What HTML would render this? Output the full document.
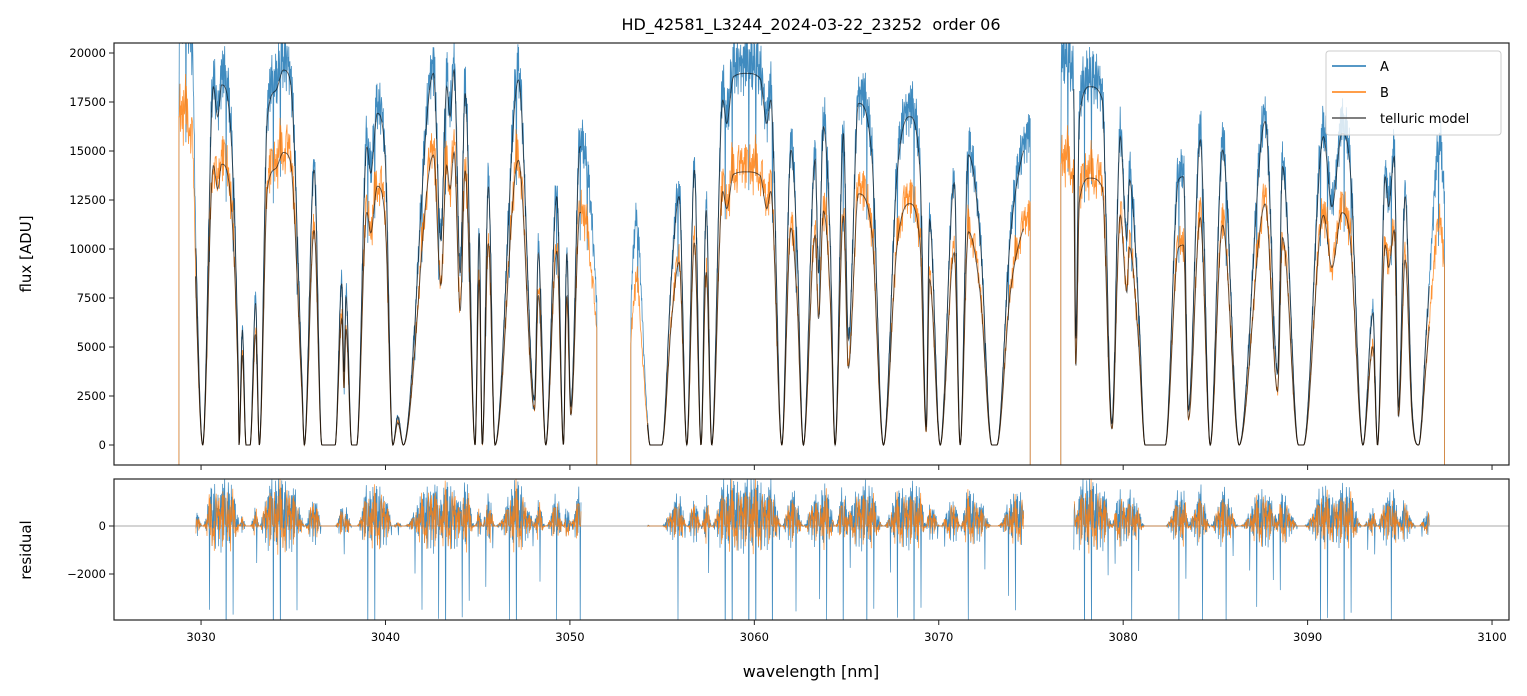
<!DOCTYPE html>
<html><head><meta charset="utf-8">
<style>
html,body{margin:0;padding:0;background:#fff;}
svg{display:block;font-family:"DejaVu Sans","Liberation Sans",sans-serif;}
</style></head>
<body>
<svg id="chart" width="1527" height="696" viewBox="0 0 1527 696" xmlns="http://www.w3.org/2000/svg">
<defs>
<clipPath id="clipMain"><rect x="114" y="43" width="1395" height="422"/></clipPath>
<clipPath id="clipRes"><rect x="114" y="479" width="1395" height="141"/></clipPath>
</defs>
<rect width="1527" height="696" fill="#fff"/>
<text x="811" y="30" text-anchor="middle" font-size="16" xml:space="preserve">HD_42581_L3244_2024-03-22_23252  order 06</text>
<g id="mainSeries" clip-path="url(#clipMain)"></g>
<g id="resSeries" clip-path="url(#clipRes)"></g>
<rect x="114" y="43" width="1395" height="422" fill="none" stroke="#222" stroke-width="1.2"/>
<rect x="114" y="479" width="1395" height="141" fill="none" stroke="#222" stroke-width="1.2"/>
<g id="axes"></g>
<text transform="translate(31,254) rotate(-90)" text-anchor="middle" font-size="15">flux [ADU]</text>
<text transform="translate(31,550) rotate(-90)" text-anchor="middle" font-size="15">residual</text>
<text x="811" y="677" text-anchor="middle" font-size="16">wavelength [nm]</text>
<g>
<rect x="1326" y="51" width="175" height="84" rx="3" fill="#fff" fill-opacity="0.8" stroke="#ccc"/>
<line x1="1332" y1="66" x2="1366" y2="66" stroke="#1f77b4" stroke-width="1.5"/>
<text x="1380" y="71" font-size="13">A</text>
<line x1="1332" y1="92" x2="1366" y2="92" stroke="#ff7f0e" stroke-width="1.5"/>
<text x="1380" y="97" font-size="13">B</text>
<line x1="1332" y1="118" x2="1366" y2="118" stroke="#555" stroke-width="1.5"/>
<text x="1380" y="123" font-size="13">telluric model</text>
</g>
</svg>
<script>
// ---- data ----
const seg1Wl=[3028.8,3029.3,3029.55,3029.73,3030.09,3030.67,3030.90,3031.12,3032.02,3032.06,3032.24,3032.44,3032.66,3032.96,3033.16,3033.60,3034.07,3034.46,3034.83,3035.46,3035.60,3036.13,3036.55,3036.72,3037.27,3037.63,3037.75,3037.86,3038.17,3038.44,3038.99,3039.20,3039.56,3039.98,3040.40,3040.67,3040.97,3042.60,3043.00,3043.32,3043.50,3043.72,3044.05,3044.32,3044.86,3045.08,3045.25,3045.58,3045.94,3047.21,3048.08,3048.29,3048.69,3049.29,3049.65,3049.83,3050.05,3050.55,3051.10,3051.46];
const seg1Flux=[21500,21000,19000,9610,0,18280,16750,18370,3670,0,5870,0,0,7230,0,16750,18110,19130,18620,3670,0,14030,0,0,0,8250,3670,7570,0,0,15220,13880,16920,14700,0,1450,0,18960,10460,18280,16750,19130,8770,17940,0,10800,0,13180,0,18620,2300,9780,0,12670,0,9780,1950,15220,12250,7060];
const seg2Wl=[3053.30,3053.59,3054.17,3054.35,3054.98,3055.52,3055.92,3056.34,3056.75,3057.11,3057.39,3057.69,3058.29,3058.50,3058.87,3059.59,3060.31,3060.68,3060.89,3061.49,3061.99,3062.30,3062.66,3063.30,3063.48,3063.75,3064.11,3064.38,3064.83,3065.10,3065.65,3066.37,3067.00,3067.73,3068.41,3068.99,3069.32,3069.50,3070.08,3070.84,3071.16,3071.61,3072.25,3072.88,3073.15,3073.87,3074.51,3074.96];
const seg2Flux=[7060,11140,1790,0,0,8760,12670,0,14030,0,11990,0,17600,16410,18790,18960,18710,16410,17600,0,15050,10460,0,14540,8760,16240,10460,0,15900,5360,17430,14710,0,13690,16750,13860,930,11480,0,13350,0,14800,10460,0,0,10460,14710,15560];
const seg3Wl=[3076.62,3077.31,3077.43,3077.63,3078.21,3078.85,3079.39,3079.84,3080.20,3080.34,3080.83,3081.19,3082.01,3082.28,3083.00,3083.27,3083.54,3084.18,3084.72,3085.39,3086.29,3087.70,3088.37,3088.64,3089.51,3089.78,3090.86,3091.32,3091.86,3092.31,3093.00,3093.54,3093.79,3094.21,3094.39,3094.70,3094.93,3095.29,3095.66,3096.02,3096.47,3097.19,3097.43];
const seg3Flux=[19300,18450,5360,16750,18280,17690,1100,15730,10460,13520,7060,0,0,0,13520,13690,1790,15560,0,15050,0,16500,3660,14200,0,0,15730,12160,15900,14030,0,6720,0,13690,12160,14710,1950,12670,1950,0,6210,15050,11820];
const bRatio=[0.78,0.735,0.745];
const residStart=[3029.7,3054.2,3077.3];
const residEnd=[3050.6,3074.6,3096.6];
const noise=[0.3,-0.5,0.8,-0.2,0.1,-0.9,0.6,0.2,-0.4,0.9,-0.7,0.0,0.5,-0.3,0.7,-0.8,0.2,0.4,-0.6,1.0,-0.1,0.3,-0.9,0.6,-0.2,0.8,-0.5,0.1,0.7,-0.4,0.2,-1.0,0.5,0.9,-0.3,-0.6,0.4,0.0,0.8,-0.7,0.3,-0.2,0.6,-0.8,0.9,0.1,-0.4,0.5,-0.1,0.7,-0.9,0.2,0.4,-0.5,0.8,-0.3,0.0,0.6,-0.7,0.3,1.0,-0.6,0.2,-0.2];
const yTicks=[0,2500,5000,7500,10000,12500,15000,17500,20000];
const xTicks=[3030,3040,3050,3060,3070,3080,3090,3100];
const resTicks=[0,-2000];

// ---- axes ----
const X0=114,X1=1509;
const xmin=3025.28,xmax=3100.92;
const xs=w=>X0+(w-xmin)/(xmax-xmin)*(X1-X0);
const ys=f=>445-f/2500*49;
const yr=r=>526-r/1000*24;
const NS='http://www.w3.org/2000/svg';
function el(tag,attrs,parent){const e=document.createElementNS(NS,tag);for(const k in attrs)e.setAttribute(k,attrs[k]);parent.appendChild(e);return e;}

function monotone(xv,yv){
  const n=xv.length,d=[],m=new Array(n);
  for(let i=0;i<n-1;i++)d.push((yv[i+1]-yv[i])/(xv[i+1]-xv[i]));
  m[0]=d[0];m[n-1]=d[n-2];
  for(let i=1;i<n-1;i++){m[i]=(d[i-1]*d[i]<=0)?0:(d[i-1]+d[i])/2;}
  for(let i=0;i<n-1;i++){if(d[i]===0){m[i]=0;m[i+1]=0;continue;}const a=m[i]/d[i],b=m[i+1]/d[i],s=a*a+b*b;if(s>9){const t=3/Math.sqrt(s);m[i]=t*a*d[i];m[i+1]=t*b*d[i];}}
  return function(x){let i=0;while(i<n-2&&x>xv[i+1])i++;const h=xv[i+1]-xv[i],t=(x-xv[i])/h,t2=t*t,t3=t2*t;
    return (2*t3-3*t2+1)*yv[i]+(t3-2*t2+t)*h*m[i]+(-2*t3+3*t2)*yv[i+1]+(t3-t2)*h*m[i+1];};
}

const axes=document.getElementById('axes');
yTicks.forEach(t=>{const y=ys(t);
  const l=el('line',{x1:X0-5,x2:X0,y1:y,y2:y,stroke:'#222'},axes);
  
  
  const tx=el('text',{x:X0-8,y:y+4,'text-anchor':'end','font-size':'11.5'},axes);tx.textContent=t;
  
  
});
xTicks.forEach(t=>{const x=xs(t);
  const l1=el('line',{x1:x,x2:x,y1:465,y2:470,stroke:'#222'},axes);
  
  
  const l2=el('line',{x1:x,x2:x,y1:620,y2:625,stroke:'#222'},axes);
  
  
  const tx=el('text',{x:x,y:641,'text-anchor':'middle','font-size':'11.5'},axes);tx.textContent=t;
  
  
});
resTicks.forEach(t=>{const y=yr(t);
  const l=el('line',{x1:X0-5,x2:X0,y1:y,y2:y,stroke:'#222'},axes);
  
  
  const tx=el('text',{x:X0-8,y:y+4,'text-anchor':'end','font-size':'11.5'},axes);tx.textContent=(t<0?'\u2212'+(-t):t);
  
  
});

const main=document.getElementById('mainSeries'),res=document.getElementById('resSeries');
const zl=el('line',{x1:X0,x2:X1,y1:yr(0),y2:yr(0),stroke:'#555','stroke-width':0.6},res);



const segs=[[seg1Wl,seg1Flux],[seg2Wl,seg2Flux],[seg3Wl,seg3Flux]];
const layers={A:[],B:[],M:[],RA:[],RB:[]};
segs.forEach((s,si)=>{
  const wl=s[0],fl=s[1],f=monotone(wl,fl),r=bRatio[si];
  let pA=[],pB=[],pM=[],pRA=[],pRB=[];
  const w0=wl[0],w1=wl[wl.length-1];
  pA.push(xs(w0).toFixed(1)+','+ys(-2000).toFixed(1));
  pB.push(xs(w0).toFixed(1)+','+ys(-2000).toFixed(1));
  let i=0;
  for(let w=w0;w<=w1;w+=0.02,i++){
    const m=Math.max(f(w),0);
    const nA=(noise[i%64]*0.6+noise[(i*5+3)%64]*0.4);
    const nB=(noise[(i*7+11)%64]*0.6+noise[(i*3+29)%64]*0.4);
    let a=m*(1+0.11*nA+0.025);
    let b=r*m*(1+0.13*nB+0.02);
    if(noise[(i*11+5)%64]<=-0.9 && noise[(i*13+2)%64]>0.3) a-=0.35*m;
    if(noise[(i*17+9)%64]<=-0.9 && noise[(i*3+7)%64]>0.3) b-=0.35*r*m;
    const x=xs(w).toFixed(1);
    pA.push(x+','+ys(a).toFixed(1));
    pB.push(x+','+ys(b).toFixed(1));
    if(w>=residStart[si]&&w<=residEnd[si]){
      pM.push(x+','+ys(m).toFixed(1));
      pRA.push(x+','+yr(a-m).toFixed(1));
      pRB.push(x+','+yr(b-r*m).toFixed(1));
    }
  }
  pA.push(xs(w1).toFixed(1)+','+ys(-2000).toFixed(1));
  pB.push(xs(w1).toFixed(1)+','+ys(-2000).toFixed(1));
  layers.A.push(pA);layers.B.push(pB);layers.M.push(pM);layers.RA.push(pRA);layers.RB.push(pRB);
  const pMB=[];
  for(let w=residStart[si];w<=residEnd[si];w+=0.02){const m=Math.max(f(w),0);pMB.push(xs(w).toFixed(1)+','+ys(r*m).toFixed(1));}
  layers.M.push(pMB);
});
layers.A.forEach(p=>{const e=el('polyline',{points:p.join(' '),fill:'none',stroke:'#1f77b4','stroke-width':0.8,'stroke-opacity':0.85},main);
  
  });
layers.B.forEach(p=>{const e=el('polyline',{points:p.join(' '),fill:'none',stroke:'#ff7f0e','stroke-width':0.8,'stroke-opacity':0.85},main);
  
  });
layers.M.forEach(p=>{const e=el('polyline',{points:p.join(' '),fill:'none',stroke:'#000','stroke-width':1,'stroke-opacity':0.6},main);
  
  });
layers.RA.forEach(p=>{const e=el('polyline',{points:p.join(' '),fill:'none',stroke:'#1f77b4','stroke-width':0.7,'stroke-opacity':0.85},res);
  
  });
layers.RB.forEach(p=>{const e=el('polyline',{points:p.join(' '),fill:'none',stroke:'#ff7f0e','stroke-width':0.7,'stroke-opacity':0.85},res);
  
  });
</script>
</body></html>
